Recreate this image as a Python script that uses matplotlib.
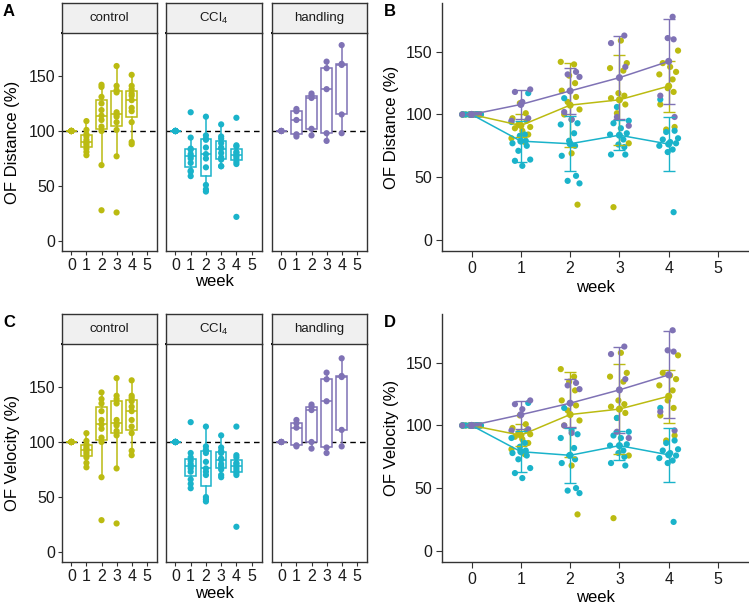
import numpy as np
import matplotlib.pyplot as plt

plt.rcParams['font.family'] = ['Liberation Sans', 'DejaVu Sans']
plt.rcParams['mathtext.default'] = 'regular'

weeks = [0, 1, 2, 3, 4]
groups = ['control', 'CCl4', 'handling']
strip_labels = ['control', 'CCl$_4$', 'handling']
colors = ['#BBBB11', '#1AB3CA', '#7F72B5']

# OF distance (%) - one list per week
dist_control = [
    [100, 100, 100, 100, 100, 100, 100, 100, 100, 100, 100],
    [109, 101, 97, 95, 92, 90, 89, 87, 84, 81, 78],
    [142, 140, 131, 125, 119, 114, 110, 104, 100, 69, 28],
    [159, 141, 137, 135, 117, 115, 113, 108, 101, 77, 26],
    [151, 141, 138, 134, 132, 128, 121, 118, 108, 90, 88],
]
dist_ccl4 = [
    [100, 100, 100, 100, 100, 100, 100, 100, 100, 100, 100],
    [117, 94, 84, 83, 79, 77, 75, 71, 64, 63, 59],
    [113, 96, 93, 92, 85, 79, 75, 67, 51, 47, 45],
    [106, 95, 93, 89, 85, 84, 80, 76, 74, 68, 68],
    [112, 87, 86, 81, 80, 78, 77, 75, 72, 70, 22],
]
dist_handling = [
    [100, 100, 100, 100, 100],
    [120, 118, 110, 97, 95],
    [134, 132, 130, 102, 96],
    [163, 157, 138, 98, 91],
    [178, 161, 160, 115, 98],
]

# OF velocity (%)
vel_control = [
    [100, 100, 100, 100, 100, 100, 100, 100, 100, 100, 100],
    [108, 101, 98, 96, 94, 93, 91, 89, 86, 81, 77],
    [145, 139, 135, 128, 120, 116, 112, 104, 100, 68, 29],
    [158, 142, 139, 135, 120, 117, 115, 110, 106, 76, 26],
    [156, 142, 140, 137, 132, 128, 120, 114, 108, 92, 88],
]
vel_ccl4 = [
    [100, 100, 100, 100, 100, 100, 100, 100, 100, 100, 100],
    [118, 90, 86, 83, 80, 78, 76, 73, 66, 62, 58],
    [114, 96, 93, 90, 82, 76, 73, 70, 50, 48, 46],
    [106, 95, 92, 90, 85, 84, 80, 78, 75, 70, 68],
    [114, 88, 86, 81, 80, 78, 76, 74, 72, 70, 23],
]
vel_handling = [
    [100, 100, 100, 100, 100],
    [120, 117, 113, 97, 96],
    [134, 132, 129, 100, 94],
    [163, 157, 137, 95, 90],
    [176, 160, 159, 111, 96],
]

distance = [dist_control, dist_ccl4, dist_handling]
velocity = [vel_control, vel_ccl4, vel_handling]

# fixed horizontal jitter pattern for the right-hand panels
jitter = np.array([-0.17, 0.12, -0.05, 0.19, -0.12, 0.03, 0.15, -0.19, 0.08, -0.02, 0.1])

W, H = 749, 606
fig = plt.figure(figsize=(W / 100, H / 100), dpi=100)
dark = '#333333'


def px_axes(x0, y0, x1, y1):
    return fig.add_axes([x0 / W, 1 - y1 / H, (x1 - x0) / W, (y1 - y0) / H])


def style_ticks(ax):
    ax.tick_params(direction='out', length=3, width=0.8, color=dark,
                   labelsize=11.5, labelcolor='#1a1a1a', pad=2)


facet_x = [(62, 157), (166, 262), (272, 367)]
rows = [
    dict(data=distance, strip_top=3, top=33, bottom=251, ylabel='OF Distance (%)',
         left_letter='A', right_letter='B', rtop=3),
    dict(data=velocity, strip_top=314, top=344, bottom=562, ylabel='OF Velocity (%)',
         left_letter='C', right_letter='D', rtop=314),
]

for row in rows:
    data = row['data']
    # ---- faceted boxplots ----
    for g, (x0, x1) in enumerate(facet_x):
        ax = px_axes(x0, row['top'], x1, row['bottom'])
        col = colors[g]
        ax.axhline(100, color='black', ls=(0, (4, 3)), lw=1.0, zorder=1.5)
        ax.boxplot(data[g], positions=weeks, widths=0.7, whis=1.5, showfliers=False,
                   patch_artist=True,
                   boxprops=dict(facecolor='white', edgecolor=col, linewidth=1.1),
                   medianprops=dict(color=col, linewidth=1.1),
                   whiskerprops=dict(color=col, linewidth=1.1),
                   capprops=dict(linewidth=0))
        for w in weeks:
            ax.scatter([w] * len(data[g][w]), data[g][w], s=20, color=col,
                       edgecolors='none', zorder=3)
        ax.set_xlim(-0.62, 5.68)
        ax.set_ylim(-9, 189)
        ax.set_xticks([0, 1, 2, 3, 4, 5])
        ax.set_xticklabels(['0', '1', '2', '3', '4', '5'])
        ax.set_yticks([0, 50, 100, 150])
        style_ticks(ax)
        if g > 0:
            ax.tick_params(axis='y', left=False, labelleft=False)
        for sp in ax.spines.values():
            sp.set_color(dark)
            sp.set_linewidth(1.0)
        ax.spines['top'].set_color('black')
        ax.spines['top'].set_linewidth(1.4)

        sax = px_axes(x0, row['strip_top'], x1, row['top'])
        sax.set_facecolor('#F0F0F0')
        sax.set_xticks([])
        sax.set_yticks([])
        for sp in sax.spines.values():
            sp.set_color(dark)
            sp.set_linewidth(1.0)
        sax.text(0.5, 0.5, strip_labels[g], ha='center', va='center', fontsize=9.5,
                 color='#1a1a1a', transform=sax.transAxes)

    fig.text(12 / W, 1 - (row['top'] + row['bottom']) / 2 / H, row['ylabel'],
             rotation=90, ha='center', va='center', fontsize=12)
    fig.text(214 / W, 1 - (row['bottom'] + 31) / H, 'week', ha='center', va='center',
             fontsize=12)
    fig.text(3 / W, 1 - (row['strip_top'] + 1) / H, row['left_letter'], ha='left', va='top',
             fontsize=12, fontweight='bold')

    # ---- overlaid means +/- SD ----
    ax = px_axes(442, row['rtop'], 749, row['bottom'])
    for g in range(3):
        col = colors[g]
        means = []
        sds = []
        for w in weeks:
            vals = np.array(data[g][w], dtype=float)
            offs = np.roll(jitter, g * 3 + w * 2)[:len(vals)]
            ax.scatter(w + offs, vals, s=20, color=col, edgecolors='none', zorder=2)
            means.append(vals.mean())
            sds.append(vals.std(ddof=1))
        ax.plot(weeks, means, color=col, lw=1.1, zorder=3)
        ax.errorbar(weeks, means, yerr=sds, fmt='none', ecolor=col, elinewidth=1.0,
                    capsize=4, capthick=1.0, zorder=3)
        ax.scatter(weeks, means, s=26, color=col, edgecolors='none', zorder=4)
    ax.set_xlim(-0.6, 5.63)
    ax.set_ylim(-9, 189)
    ax.set_xticks([0, 1, 2, 3, 4, 5])
    ax.set_yticks([0, 50, 100, 150])
    style_ticks(ax)
    ax.tick_params(length=4, pad=3)
    for side in ['top', 'right']:
        ax.spines[side].set_visible(False)
    for side in ['left', 'bottom']:
        ax.spines[side].set_color(dark)
        ax.spines[side].set_linewidth(1.0)

    fig.text(392 / W, 1 - (row['rtop'] + row['bottom']) / 2 / H, row['ylabel'],
             rotation=90, ha='center', va='center', fontsize=12)
    fig.text(595 / W, 1 - (row['bottom'] + 36) / H, 'week', ha='center', va='center',
             fontsize=12)
    fig.text(384 / W, 1 - (row['strip_top'] + 1) / H, row['right_letter'], ha='left',
             va='top', fontsize=12, fontweight='bold')

fig.savefig('out.png', dpi=100)
